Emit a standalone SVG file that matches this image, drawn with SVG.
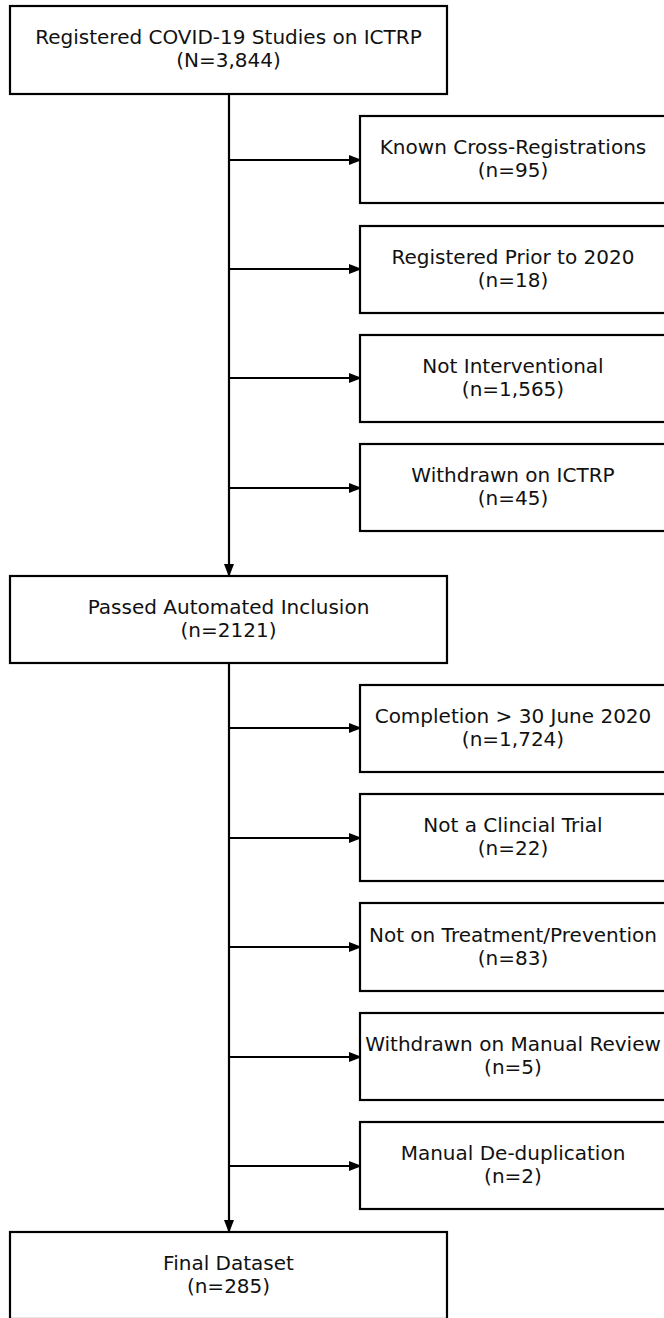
<svg xmlns="http://www.w3.org/2000/svg" width="664" height="1318" viewBox="0 0 664 1318">
<style>
.box{fill:#fff;stroke:#000;stroke-width:2.2}
.t{font-family:"DejaVu Sans",sans-serif;font-size:20px;fill:#111;text-anchor:middle}
.c{stroke:#000;stroke-width:2.2;fill:none}
</style>
<defs>
<marker id="ah" markerUnits="userSpaceOnUse" markerWidth="14" markerHeight="11" refX="13" refY="5.5" orient="auto">
<path d="M0,0.5 L13,5.5 L0,10.5 Z" fill="#000"/>
</marker>
</defs>
<rect width="664" height="1318" fill="#fff"/>
<g id="connectors">
<path class="c" d="M229,94 V577" marker-end="url(#ah)"/>
<path class="c" d="M229,663 V1233" marker-end="url(#ah)"/>
<path class="c" d="M229,160 H362" marker-end="url(#ah)"/>
<path class="c" d="M229,269 H362" marker-end="url(#ah)"/>
<path class="c" d="M229,378 H362" marker-end="url(#ah)"/>
<path class="c" d="M229,488 H362" marker-end="url(#ah)"/>
<path class="c" d="M229,728 H362" marker-end="url(#ah)"/>
<path class="c" d="M229,838 H362" marker-end="url(#ah)"/>
<path class="c" d="M229,947 H362" marker-end="url(#ah)"/>
<path class="c" d="M229,1057 H362" marker-end="url(#ah)"/>
<path class="c" d="M229,1166 H362" marker-end="url(#ah)"/>
</g>
<g id="n-start">
<rect class="box" x="10" y="6" width="437" height="88"/>
<text class="t" x="228.5" y="44">Registered COVID-19 Studies on ICTRP</text>
<text class="t" x="228.5" y="67">(N=3,844)</text>
</g>
<g id="n-cross">
<rect class="box" x="360" y="116" width="306" height="87"/>
<text class="t" x="513" y="154">Known Cross-Registrations</text>
<text class="t" x="513" y="177">(n=95)</text>
</g>
<g id="n-prior">
<rect class="box" x="360" y="226" width="306" height="87"/>
<text class="t" x="513" y="264">Registered Prior to 2020</text>
<text class="t" x="513" y="287">(n=18)</text>
</g>
<g id="n-notint">
<rect class="box" x="360" y="335" width="306" height="87"/>
<text class="t" x="513" y="373">Not Interventional</text>
<text class="t" x="513" y="396">(n=1,565)</text>
</g>
<g id="n-withdrawn">
<rect class="box" x="360" y="444" width="306" height="87"/>
<text class="t" x="513" y="482">Withdrawn on ICTRP</text>
<text class="t" x="513" y="505">(n=45)</text>
</g>
<g id="n-passed">
<rect class="box" x="10" y="576" width="437" height="87"/>
<text class="t" x="228.5" y="614">Passed Automated Inclusion</text>
<text class="t" x="228.5" y="637">(n=2121)</text>
</g>
<g id="n-completion">
<rect class="box" x="360" y="685" width="306" height="87"/>
<text class="t" x="513" y="723">Completion &gt; 30 June 2020</text>
<text class="t" x="513" y="746">(n=1,724)</text>
</g>
<g id="n-notct">
<rect class="box" x="360" y="794" width="306" height="87"/>
<text class="t" x="513" y="832">Not a Clincial Trial</text>
<text class="t" x="513" y="855">(n=22)</text>
</g>
<g id="n-nottreat">
<rect class="box" x="360" y="903" width="306" height="88"/>
<text class="t" x="513" y="942">Not on Treatment/Prevention</text>
<text class="t" x="513" y="965">(n=83)</text>
</g>
<g id="n-manualwd">
<rect class="box" x="360" y="1013" width="306" height="87"/>
<text class="t" x="513" y="1051">Withdrawn on Manual Review</text>
<text class="t" x="513" y="1074">(n=5)</text>
</g>
<g id="n-dedup">
<rect class="box" x="360" y="1122" width="306" height="87"/>
<text class="t" x="513" y="1160">Manual De-duplication</text>
<text class="t" x="513" y="1183">(n=2)</text>
</g>
<g id="n-final">
<rect class="box" x="10" y="1232" width="437" height="87"/>
<text class="t" x="228.5" y="1270">Final Dataset</text>
<text class="t" x="228.5" y="1293">(n=285)</text>
</g>
</svg>
